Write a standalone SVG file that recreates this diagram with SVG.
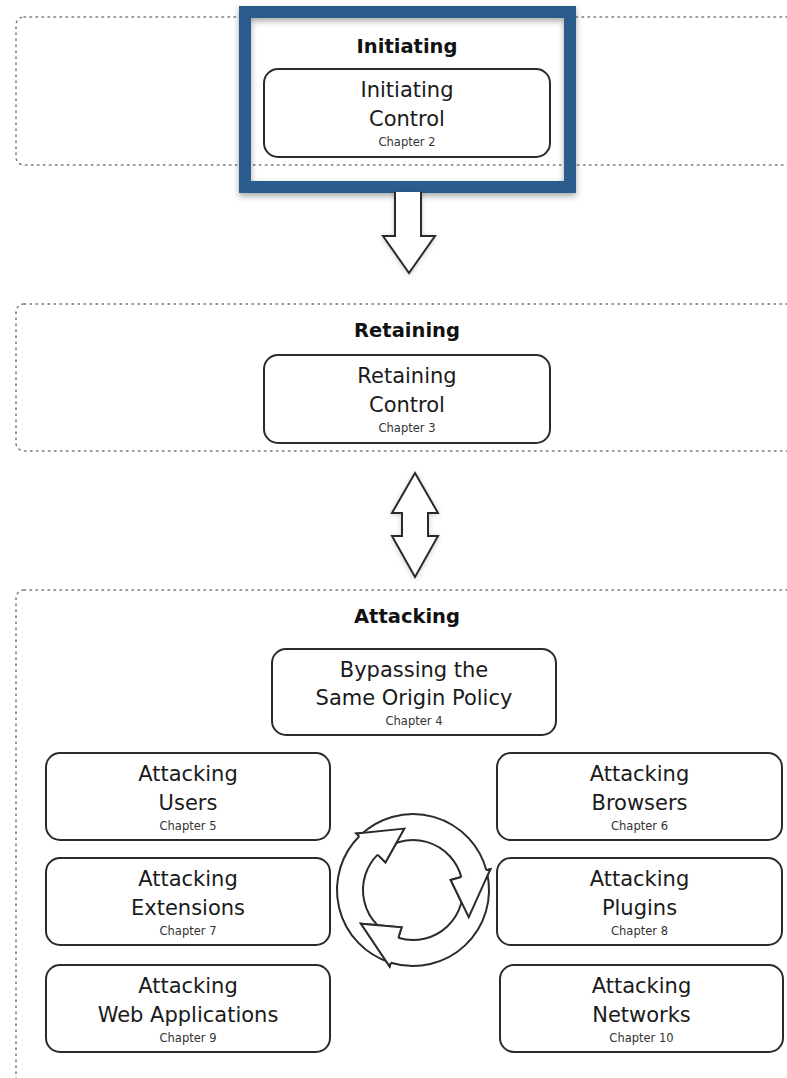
<svg xmlns="http://www.w3.org/2000/svg" width="787" height="1078" viewBox="0 0 787 1078">
<defs>
<style>
.grp{fill:none;stroke:#7a7a7a;stroke-width:1.5;stroke-dasharray:1.5 4.5;stroke-linecap:round}
.box{fill:#fff;stroke:#2b2b2b;stroke-width:2}
.title{font-family:"DejaVu Sans",Verdana,sans-serif;font-weight:bold;font-size:19.5px;fill:#111;text-anchor:middle}
.lbl{font-family:"DejaVu Sans",Verdana,sans-serif;font-size:21px;fill:#1a1a1a;text-anchor:middle}
.ch{font-family:"DejaVu Sans",Verdana,sans-serif;font-size:11.5px;fill:#333;text-anchor:middle}
.arr{fill:#fff;stroke:#2b2b2b;stroke-width:2;stroke-linejoin:miter}
.hf{fill:#fff;stroke:none}
.hs{fill:none;stroke:#2b2b2b;stroke-width:2;stroke-linejoin:miter}
</style>
<filter id="sh" x="-10%" y="-10%" width="120%" height="125%">
<feDropShadow dx="0" dy="3" stdDeviation="3" flood-color="#000" flood-opacity="0.35"/>
</filter>
<filter id="soft" x="-30%" y="-30%" width="160%" height="160%">
<feDropShadow dx="0" dy="1" stdDeviation="2.5" flood-color="#000" flood-opacity="0.2"/>
</filter>
</defs>
<rect width="787" height="1078" fill="#fff"/>

<g id="group-initiating">
<rect class="grp" x="16" y="17" width="800" height="148" rx="8"/>
<text class="title" x="407" y="53">Initiating</text>
</g>
<g id="group-retaining">
<rect class="grp" x="16" y="304" width="800" height="147" rx="8"/>
<text class="title" x="407" y="337">Retaining</text>
</g>
<g id="group-attacking">
<rect class="grp" x="16" y="590" width="800" height="495" rx="8"/>
<text class="title" x="407" y="623">Attacking</text>
</g>

<g id="node-initiating-control">
<rect class="box" x="264" y="69" width="286" height="88" rx="14"/>
<text class="lbl" x="407" y="97">Initiating</text>
<text class="lbl" x="407" y="126">Control</text>
<text class="ch" x="407" y="146">Chapter 2</text>
</g>
<g id="highlight">
<rect x="245" y="12" width="325" height="175" fill="none" stroke="#295b8d" stroke-width="12" filter="url(#sh)"/>
</g>

<g id="node-retaining-control">
<rect class="box" x="264" y="355" width="286" height="88" rx="14"/>
<text class="lbl" x="407" y="383">Retaining</text>
<text class="lbl" x="407" y="412">Control</text>
<text class="ch" x="407" y="432">Chapter 3</text>
</g>

<g id="node-sop">
<rect class="box" x="272" y="649" width="284" height="86" rx="14"/>
<text class="lbl" x="414" y="677">Bypassing the</text>
<text class="lbl" x="414" y="705">Same Origin Policy</text>
<text class="ch" x="414" y="725">Chapter 4</text>
</g>
<g id="node-users">
<rect class="box" x="46" y="753" width="284" height="87" rx="14"/>
<text class="lbl" x="188" y="781">Attacking</text>
<text class="lbl" x="188" y="810">Users</text>
<text class="ch" x="188" y="830">Chapter 5</text>
</g>
<g id="node-browsers">
<rect class="box" x="497" y="753" width="285" height="87" rx="14"/>
<text class="lbl" x="639.5" y="781">Attacking</text>
<text class="lbl" x="639.5" y="810">Browsers</text>
<text class="ch" x="639.5" y="830">Chapter 6</text>
</g>
<g id="node-extensions">
<rect class="box" x="46" y="858" width="284" height="87" rx="14"/>
<text class="lbl" x="188" y="886">Attacking</text>
<text class="lbl" x="188" y="915">Extensions</text>
<text class="ch" x="188" y="935">Chapter 7</text>
</g>
<g id="node-plugins">
<rect class="box" x="497" y="858" width="285" height="87" rx="14"/>
<text class="lbl" x="639.5" y="886">Attacking</text>
<text class="lbl" x="639.5" y="915">Plugins</text>
<text class="ch" x="639.5" y="935">Chapter 8</text>
</g>
<g id="node-webapps">
<rect class="box" x="46" y="965" width="284" height="87" rx="14"/>
<text class="lbl" x="188" y="993">Attacking</text>
<text class="lbl" x="188" y="1022">Web Applications</text>
<text class="ch" x="188" y="1042">Chapter 9</text>
</g>
<g id="node-networks">
<rect class="box" x="500" y="965" width="283" height="87" rx="14"/>
<text class="lbl" x="641.5" y="993">Attacking</text>
<text class="lbl" x="641.5" y="1022">Networks</text>
<text class="ch" x="641.5" y="1042">Chapter 10</text>
</g>

<g id="connectors">
<path class="arr" filter="url(#soft)" d="M395 192 V236 H383 L409 273 L435 236 H421 V192"/>
<path class="arr" filter="url(#soft)" d="M415 473 L438 513 H428 V536 H438 L415 577 L392 536 H402 V513 H392 Z"/>
<g id="cycle">
<path class="arr" d="M388.89 962.07 A76 76 0 0 1 359.26 836.26 L356.43 833.43 L404.37 828.60 L385.42 862.42 L377.64 854.64 A50 50 0 0 0 397.13 937.42 Z"/>
<path class="arr" d="M360.68 834.87 A76 76 0 0 1 486.41 870.33 L490.27 869.29 L468.73 917.18 L450.67 879.91 L461.30 877.06 A50 50 0 0 0 378.58 853.73 Z"/>
<path class="arr" d="M486.90 872.26 A76 76 0 0 1 390.78 962.68 L389.61 966.50 L361.00 923.77 L401.60 927.30 L398.38 937.82 A50 50 0 0 0 461.62 878.33 Z"/>
<path class="hf" d="M359.26 836.26 L356.43 833.43 L404.37 828.60 L385.42 862.42 L377.64 854.64 Z"/>
<path class="hs" d="M359.26 836.26 L356.43 833.43 L404.37 828.60 L385.42 862.42 L377.64 854.64"/>
<path class="hf" d="M486.41 870.33 L490.27 869.29 L468.73 917.18 L450.67 879.91 L461.30 877.06 Z"/>
<path class="hs" d="M486.41 870.33 L490.27 869.29 L468.73 917.18 L450.67 879.91 L461.30 877.06"/>
<path class="hf" d="M390.78 962.68 L389.61 966.50 L361.00 923.77 L401.60 927.30 L398.38 937.82 Z"/>
<path class="hs" d="M390.78 962.68 L389.61 966.50 L361.00 923.77 L401.60 927.30 L398.38 937.82"/>
</g>
</g>
</svg>
